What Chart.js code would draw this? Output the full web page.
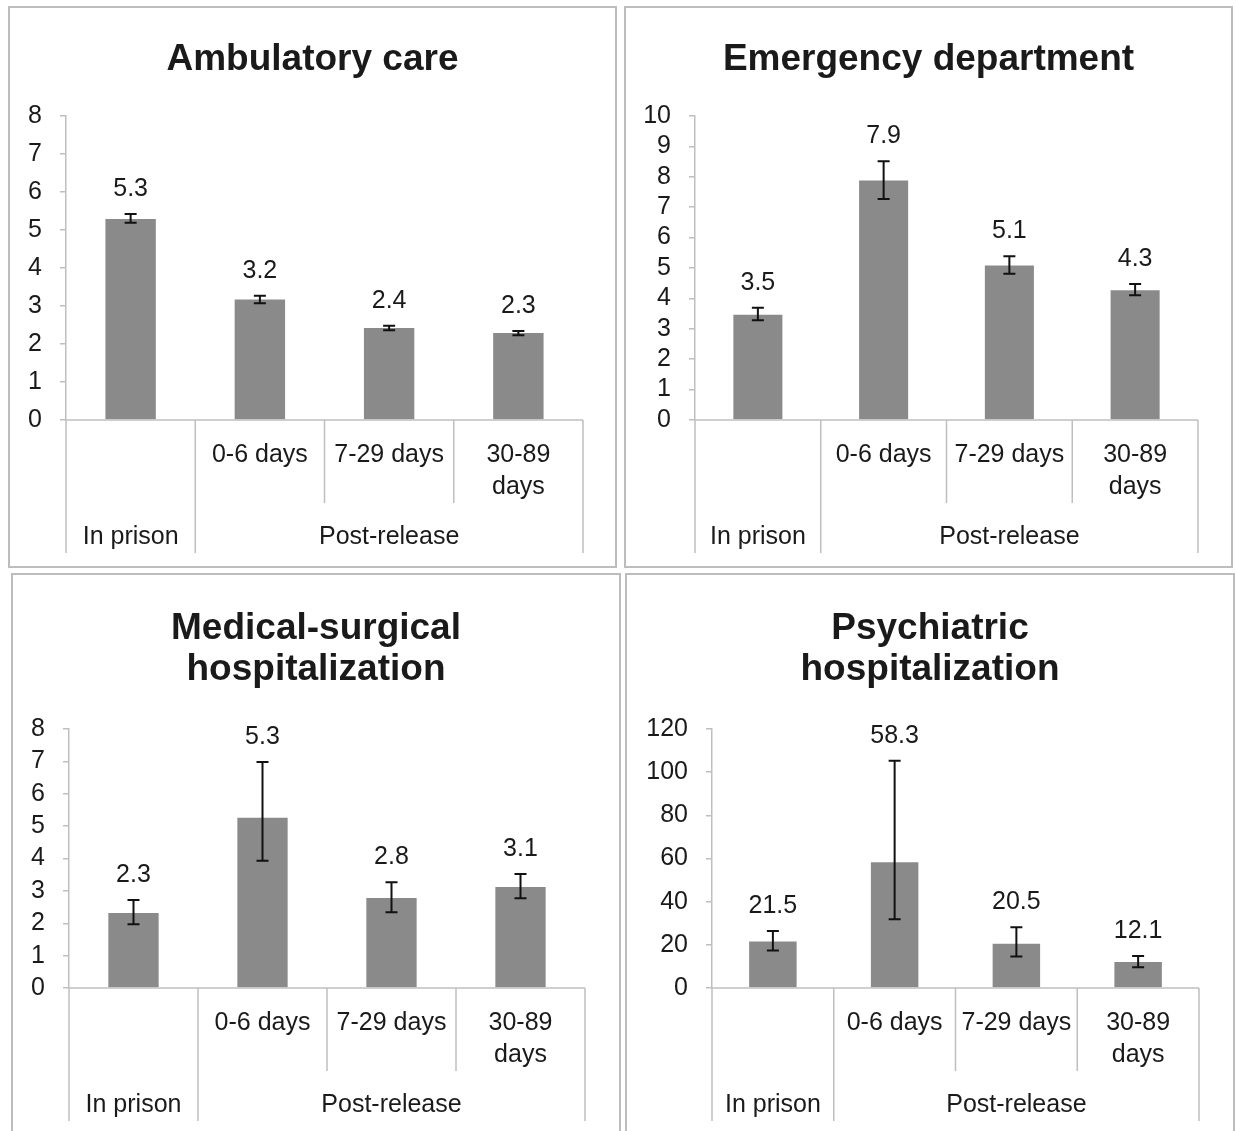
<!DOCTYPE html>
<html><head><meta charset="utf-8">
<script src="https://cdn.jsdelivr.net/npm/chart.js@4.4.0/dist/chart.umd.min.js"></script>
<style>
html,body{margin:0;padding:0;background:#fff;width:1236px;height:1131px;overflow:hidden;}
.panel{position:absolute;box-sizing:border-box;border:2px solid #bdbdbd;background:#fff;}
.panel canvas{display:block;}
</style></head><body>
<div class="panel" style="left:8px;top:6px;width:609px;height:562px"><canvas id="c1" width="605" height="558"></canvas></div>
<div class="panel" style="left:624px;top:6px;width:609px;height:562px"><canvas id="c2" width="605" height="558"></canvas></div>
<div class="panel" style="left:11px;top:573px;width:610px;height:570px"><canvas id="c3" width="606" height="566"></canvas></div>
<div class="panel" style="left:625px;top:573px;width:610px;height:570px"><canvas id="c4" width="606" height="566"></canvas></div>
<script>
// ---- data ----
const periods = ['', '0-6 days', '7-29 days', '30-89\ndays'];
const groups = ['In prison', 'Post-release'];
const groupSpans = [1, 3];

const ambulatory = [5.29, 3.17, 2.42, 2.29];
const ambulatoryLow = [5.19, 3.07, 2.36, 2.23];
const ambulatoryHigh = [5.42, 3.27, 2.48, 2.34];

const emergency = [3.46, 7.88, 5.08, 4.27];
const emergencyLow = [3.28, 7.27, 4.81, 4.10];
const emergencyHigh = [3.69, 8.51, 5.39, 4.47];

const medSurg = [2.32, 5.26, 2.78, 3.12];
const medSurgLow = [1.97, 3.93, 2.34, 2.77];
const medSurgHigh = [2.72, 6.98, 3.27, 3.52];

const psych = [21.5, 58.3, 20.5, 12.1];
const psychLow = [17.4, 31.9, 14.6, 9.6];
const psychHigh = [26.4, 105.3, 28.1, 14.8];

// ---- styling / layout ----
const FONT = '"Liberation Sans", Arial, Helvetica, sans-serif';
const TEXT = '#1a1a1a';
const AXIS = '#bfbfbf';
const BAR = '#8a8a8a';

const extras = {
  id: 'extras',
  afterDatasetsDraw(chart) {
    const o = chart.options.plugins.extras;
    const ctx = chart.ctx, xs = chart.scales.x, ys = chart.scales.y, ca = chart.chartArea;
    const meta = chart.getDatasetMeta(0);
    const vals = chart.data.datasets[0].data;
    ctx.save();
    meta.data.forEach((bar, i) => {
      const x = bar.x;
      const yl = ys.getPixelForValue(o.low[i]);
      const yh = ys.getPixelForValue(o.high[i]);
      ctx.strokeStyle = '#111'; ctx.lineWidth = 2;
      ctx.beginPath();
      ctx.moveTo(x, yl); ctx.lineTo(x, yh);
      ctx.moveTo(x - 6, yl); ctx.lineTo(x + 6, yl);
      ctx.moveTo(x - 6, yh); ctx.lineTo(x + 6, yh);
      ctx.stroke();
      ctx.fillStyle = TEXT; ctx.font = '25px ' + FONT;
      ctx.textAlign = 'center'; ctx.textBaseline = 'middle';
      ctx.fillText(vals[i].toFixed(1), x, yh - 25);
    });
    ctx.strokeStyle = AXIS; ctx.lineWidth = 1.5;
    ctx.beginPath(); ctx.moveTo(ca.left, ca.bottom); ctx.lineTo(ca.right, ca.bottom); ctx.stroke();
    const n = vals.length;
    const bounds = [0];
    let acc = 0; groupSpans.forEach(s => { acc += s; bounds.push(acc); });
    for (let i = 0; i <= n; i++) {
      const x = xs.getPixelForValue(i - 0.5);
      const outer = bounds.includes(i);
      ctx.beginPath(); ctx.moveTo(x, ca.bottom); ctx.lineTo(x, ca.bottom + (outer ? 133 : 83)); ctx.stroke();
    }
    ctx.fillStyle = TEXT; ctx.font = '25px ' + FONT; ctx.textAlign = 'center'; ctx.textBaseline = 'middle';
    periods.forEach((p, i) => {
      const x = xs.getPixelForValue(i);
      p.split('\n').forEach((line, k) => ctx.fillText(line, x, ca.bottom + 35 + k * 32));
    });
    groups.forEach((g, j) => {
      const a = xs.getPixelForValue(bounds[j] - 0.5), b = xs.getPixelForValue(bounds[j + 1] - 0.5);
      ctx.fillText(g, (a + b) / 2, ca.bottom + 117);
    });
    ctx.restore();
  }
};

function makeChart(id, title, values, low, high, yMax, yStep, axisW, padRight, padBottom, tTop, tBottom) {
  new Chart(document.getElementById(id), {
    type: 'bar',
    data: { labels: periods, datasets: [{ data: values, backgroundColor: BAR, borderWidth: 0,
      barPercentage: 0.39, categoryPercentage: 1.0, yAxisID: 'y' }] },
    options: {
      responsive: false, animation: false, devicePixelRatio: 1,
      layout: { padding: { left: 0, right: 0, top: 0, bottom: padBottom } },
      plugins: {
        legend: { display: false }, tooltip: { enabled: false },
        title: { display: true, text: title, color: TEXT,
          font: { family: FONT, size: 37, weight: 'bold', lineHeight: 41 / 37 },
          padding: { top: tTop, bottom: tBottom } },
        extras: { low: low, high: high }
      },
      scales: {
        x: { display: false },
        y: {
          min: 0, max: yMax,
          afterFit(s) { s.width = axisW; },
          border: { display: true, color: AXIS, width: 1.5 },
          grid: { drawOnChartArea: false, drawTicks: true, tickLength: 6, color: AXIS, lineWidth: 1.5 },
          ticks: { stepSize: yStep, autoSkip: false, padding: 18, color: TEXT, font: { family: FONT, size: 25 } }
        },
        yr: {
          position: 'right', display: true, min: 0, max: 1,
          afterFit(s) { s.width = padRight; },
          border: { display: false }, grid: { display: false }, ticks: { display: false }
        }
      }
    },
    plugins: [extras]
  });
}

makeChart('c1', 'Ambulatory care', ambulatory, ambulatoryLow, ambulatoryHigh, 8, 1, 56, 32, 146, 31.5, 35.5);
makeChart('c2', 'Emergency department', emergency, emergencyLow, emergencyHigh, 10, 1, 69, 33, 146, 31.5, 35.5);
makeChart('c3', ['Medical-surgical', 'hospitalization'], medSurg, medSurgLow, medSurgHigh, 8, 1, 56, 34, 153, 33.5, 38.5);
makeChart('c4', ['Psychiatric', 'hospitalization'], psych, psychLow, psychHigh, 120, 20, 85, 34, 153, 33.5, 38.5);
</script>
</body></html>
